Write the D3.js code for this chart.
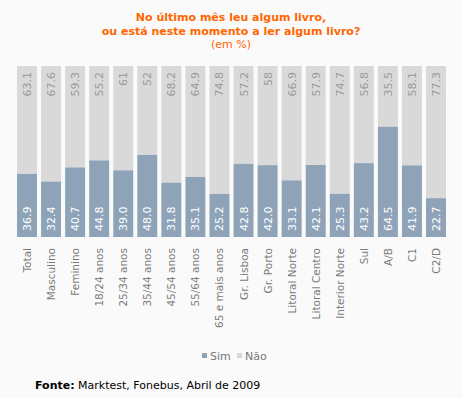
<!DOCTYPE html>
<html lang="pt">
<head>
  <meta charset="UTF-8">
  <title>No último mês leu algum livro</title>
  <style>
    body { margin: 0; background: #fafafa; }
    svg { display: block; font-family: "DejaVu Sans", Verdana, sans-serif; }
    .title { fill: #ff6600; font-size: 11px; font-weight: bold; }
    .subtitle { fill: #ff6600; font-size: 11px; }
    .axis text { fill: #7a7a7a; font-size: 10.5px; font-family: "DejaVu Sans", Verdana, sans-serif; }
    .axis path, .axis line { display: none; }
    .lbl-sim { fill: #ffffff; font-size: 11px; }
    .lbl-nao { fill: #999999; font-size: 11px; }
    .legend text { fill: #777777; font-size: 11px; }
    .fonte { font-size: 11px; fill: #000000; }
  </style>
</head>
<body>
<svg id="chart" width="462" height="398"></svg>

<script src="https://cdn.jsdelivr.net/npm/d3@7/dist/d3.min.js"></script>
<script>
  "use strict";

  var categories = ["Total", "Masculino", "Feminino", "18/24 anos", "25/34 anos", "35/44 anos",
    "45/54 anos", "55/64 anos", "65 e mais anos", "Gr. Lisboa", "Gr. Porto", "Litoral Norte",
    "Litoral Centro", "Interior Norte", "Sul", "A/B", "C1", "C2/D"];
  var sim = [36.9, 32.4, 40.7, 44.8, 39.0, 48.0, 31.8, 35.1, 25.2, 42.8, 42.0, 33.1, 42.1, 25.3, 43.2, 64.5, 41.9, 22.7];
  var nao = [63.1, 67.6, 59.3, 55.2, 61, 52, 68.2, 64.9, 74.8, 57.2, 58, 66.9, 57.9, 74.7, 56.8, 35.5, 58.1, 77.3];
  var simLabels = ["36.9", "32.4", "40.7", "44.8", "39.0", "48.0", "31.8", "35.1", "25.2", "42.8", "42.0", "33.1", "42.1", "25.3", "43.2", "64.5", "41.9", "22.7"];
  var naoLabels = ["63.1", "67.6", "59.3", "55.2", "61", "52", "68.2", "64.9", "74.8", "57.2", "58", "66.9", "57.9", "74.7", "56.8", "35.5", "58.1", "77.3"];
  var seriesNames = ["Sim", "Não"];

  var colSim = "#8ea3b8", colNao = "#d9d9d9";

  var svg = d3.select("#chart");

  // título
  svg.append("text").attr("class", "title").attr("x", 231).attr("y", 21)
    .attr("text-anchor", "middle").text("No último mês leu algum livro,");
  svg.append("text").attr("class", "title").attr("x", 231).attr("y", 35)
    .attr("text-anchor", "middle").text("ou está neste momento a ler algum livro?");
  svg.append("text").attr("class", "subtitle").attr("x", 231).attr("y", 48)
    .attr("text-anchor", "middle").text("(em %)");

  var x = d3.scaleBand()
    .domain(categories)
    .range([17, 446])
    .paddingInner(0.17)
    .paddingOuter(0);

  var y = d3.scaleLinear()
    .domain([0, 100])
    .range([237, 66]);

  var rows = categories.map(function(c, i){
    return { cat: c, sim: sim[i], nao: nao[i], simL: simLabels[i], naoL: naoLabels[i] };
  });

  var g = svg.append("g");

  // barras Não (em cima)
  g.selectAll("rect.nao")
    .data(rows)
    .enter()
    .append("rect")
    .attr("class", "nao")
    .attr("x", function(d){ return x(d.cat); })
    .attr("width", x.bandwidth())
    .attr("y", function(d){ return y(d.sim + d.nao); })
    .attr("height", function(d){ return y(d.sim) - y(d.sim + d.nao); })
    .attr("fill", colNao);

  // barras Sim
  g.selectAll("rect.sim")
    .data(rows)
    .enter()
    .append("rect")
    .attr("class", "sim")
    .attr("x", function(d){ return x(d.cat); })
    .attr("width", x.bandwidth())
    .attr("y", function(d){ return y(d.sim); })
    .attr("height", function(d){ return y(0) - y(d.sim); })
    .attr("fill", colSim);

  // valores
  g.selectAll("text.lbl-sim")
    .data(rows)
    .enter()
    .append("text")
    .attr("class", "lbl-sim")
    .attr("transform", function(d){
      return "translate(" + (x(d.cat) + x.bandwidth() / 2 + 4) + "," + (y(0) - 6) + ") rotate(-90)";
    })
    .text(function(d){ return d.simL; });

  g.selectAll("text.lbl-nao")
    .data(rows)
    .enter()
    .append("text")
    .attr("class", "lbl-nao")
    .attr("text-anchor", "end")
    .attr("transform", function(d){
      return "translate(" + (x(d.cat) + x.bandwidth() / 2 + 4) + "," + (y(100) + 6) + ") rotate(-90)";
    })
    .text(function(d){ return d.naoL; });

  // eixo das categorias
  svg.append("g")
    .attr("class", "axis")
    .attr("transform", "translate(0," + y(0) + ")")
    .call(d3.axisBottom(x).tickSize(0).tickPadding(0))
    .selectAll("text")
    .attr("text-anchor", "end")
    .attr("transform", "translate(4,11) rotate(-90)")
    .attr("dy", 0)
    .attr("y", 0)
    .attr("x", 0);

  // legenda
  var legend = svg.append("g").attr("class", "legend");
  var legX = [202, 237];
  var legCol = [colSim, colNao];
  legend.selectAll("rect")
    .data(seriesNames)
    .enter()
    .append("rect")
    .attr("x", function(d, i){ return legX[i]; })
    .attr("y", 353)
    .attr("width", 5)
    .attr("height", 5)
    .attr("fill", function(d, i){ return legCol[i]; });
  legend.selectAll("text")
    .data(seriesNames)
    .enter()
    .append("text")
    .attr("x", function(d, i){ return legX[i] + 8; })
    .attr("y", 360)
    .text(function(d){ return d; });

  // fonte
  var f = svg.append("text").attr("class", "fonte").attr("x", 35).attr("y", 389);
  f.append("tspan").attr("font-weight", "bold").text("Fonte:");
  f.append("tspan").text(" Marktest, Fonebus, Abril de 2009");
</script>
</body>
</html>
